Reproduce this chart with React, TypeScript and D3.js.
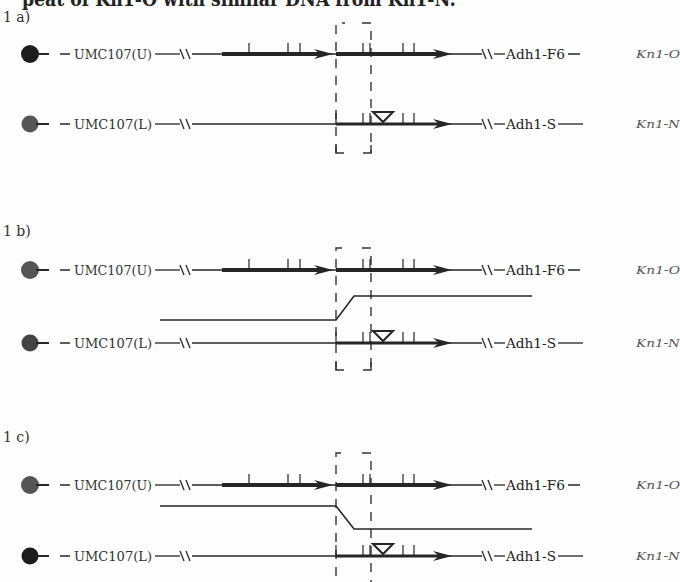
import React from 'react';
import * as d3 from 'd3';

// map positions along the chromosome (same units as the picture width)
const panelLabels = ['1 a)', '1 b)', '1 c)'];
const upperMarkers = ['UMC107(U)', 'UMC107(U)', 'UMC107(U)'];
const lowerMarkers = ['UMC107(L)', 'UMC107(L)', 'UMC107(L)'];
const upperAdh = ['Adh1-F6', 'Adh1-F6', 'Adh1-F6'];
const lowerAdh = ['Adh1-S', 'Adh1-S', 'Adh1-S'];
const upperAllele = ['Kn1-O', 'Kn1-O', 'Kn1-O'];
const lowerAllele = ['Kn1-N', 'Kn1-N', 'Kn1-N'];
const upperCircleFill = ['#1c1c1c', '#555', '#555'];
const lowerCircleFill = ['#555', '#444', '#1c1c1c'];

// crossover type per panel: none, from lower to upper, from upper to lower
const crossover = ['none', 'up', 'down'];

// vertical layout of each panel
const labelY = [22, 236, 442];
const upperY = [54, 270, 485];
const lowerY = [124, 343, 556];
const boxTop = [23, 248, 453];
const boxBottom = [153, 370, 610];

// gene features
const repeat1 = [222, 333];
const repeat2 = [336, 452];
const upperTicks = [249, 288, 300, 363, 370, 403, 414];
const lowerTicks = [336, 363, 370, 403, 414];
const boxEdges = [336, 371];
const insertion = 383;
const crossStart = 160;
const crossBendA = 336;
const crossBendB = 354;
const crossEnd = 532;

const x = d3.scaleLinear().domain([0, 680]).range([0, 680]);

const ink = '#262626';

function Arrow({ tip, y }: { tip: number; y: number }) {
  const t = x(tip);
  const p = d3.path();
  p.moveTo(t, y);
  p.lineTo(t - 19, y - 5);
  p.lineTo(t - 13, y);
  p.lineTo(t - 19, y + 5);
  p.closePath();
  return <path d={p.toString()} fill={ink} />;
}

function Break({ at, y }: { at: number; y: number }) {
  return (
    <g stroke={ink} strokeWidth={1.3}>
      <line x1={x(at) - 2} y1={y - 5} x2={x(at) + 2} y2={y + 5} />
      <line x1={x(at) + 4} y1={y - 5} x2={x(at) + 8} y2={y + 5} />
    </g>
  );
}

function Chromosome({ y, fill, marker, adh, allele, upper, r }: any) {
  const ticks = upper ? upperTicks : lowerTicks;
  return (
    <g>
      <circle cx={x(30)} cy={y} r={r} fill={fill} />
      <line x1={x(36)} x2={x(49)} y1={y} y2={y} stroke={ink} strokeWidth={2} />
      <line x1={x(60)} x2={x(70)} y1={y} y2={y} stroke={ink} strokeWidth={1.5} />
      <text x={x(74)} y={y + 4.5} fontSize={12.5} fill="#333" fontFamily="'DejaVu Serif', serif" textLength={78} lengthAdjust="spacingAndGlyphs">
        {marker}
      </text>
      <line x1={x(155)} x2={x(180)} y1={y} y2={y} stroke={ink} strokeWidth={1.3} />
      <Break at={182} y={y} />
      <line x1={x(192)} x2={x(482)} y1={y} y2={y} stroke={ink} strokeWidth={1.3} />
      {upper && (
        <g>
          <line x1={x(repeat1[0])} x2={x(repeat1[1]) - 13} y1={y} y2={y} stroke={ink} strokeWidth={4} />
          <Arrow tip={repeat1[1]} y={y} />
        </g>
      )}
      <line x1={x(repeat2[0])} x2={x(repeat2[1]) - 13} y1={y} y2={y} stroke={ink} strokeWidth={upper ? 4 : 3} />
      <Arrow tip={repeat2[1]} y={y} />
      {ticks.map((t, i) => (
        <line key={i} x1={x(t)} x2={x(t)} y1={y - 11} y2={y + 1} stroke={ink} strokeWidth={1.2} />
      ))}
      {!upper && (
        <path
          d={`M${x(insertion) - 10},${y - 12}L${x(insertion) + 10},${y - 12}L${x(insertion)},${y - 2}Z`}
          fill="none"
          stroke={ink}
          strokeWidth={2}
        />
      )}
      <Break at={484} y={y} />
      <line x1={x(494)} x2={x(505)} y1={y} y2={y} stroke={ink} strokeWidth={1.3} />
      <text x={x(506)} y={y + 4.5} fontSize={13} fill="#222" fontFamily="'DejaVu Serif', serif" textLength={upper ? 59 : 50} lengthAdjust="spacingAndGlyphs">
        {adh}
      </text>
      {upper ? (
        <line x1={x(568)} x2={x(580)} y1={y} y2={y} stroke={ink} strokeWidth={1.5} />
      ) : (
        <line x1={x(558)} x2={x(583)} y1={y} y2={y} stroke={ink} strokeWidth={1.3} />
      )}
      <text x={x(636)} y={y + 4} fontSize={11.5} fontStyle="italic" fill="#555" fontFamily="'DejaVu Serif', serif" textLength={44} lengthAdjust="spacingAndGlyphs">
        {allele}
      </text>
    </g>
  );
}

export default function App() {
  return (
    <svg width={680} height={582} style={{ position: 'absolute', left: 0, top: 0, background: '#fdfdfd' }}>
      <text x={22} y={6} fontSize={21} fontWeight="bold" fill="#222" fontFamily="'DejaVu Serif', serif" textLength={434} lengthAdjust="spacingAndGlyphs">
        peat of Kn1-O with similar DNA from Kn1-N:
      </text>
      {panelLabels.map((lab, i) => {
        const midY = (upperY[i] + lowerY[i]) / 2;
        const hiY = crossover[i] === 'up' ? upperY[i] + 26 : upperY[i] + 21;
        const loY = crossover[i] === 'up' ? lowerY[i] - 23 : lowerY[i] - 27;
        let cross = null;
        if (crossover[i] !== 'none') {
          const startY = crossover[i] === 'up' ? loY : hiY;
          const endY = crossover[i] === 'up' ? hiY : loY;
          const line = d3.line()([
            [x(crossStart), startY],
            [x(crossBendA), startY],
            [x(crossBendB), endY],
            [x(crossEnd), endY],
          ]);
          cross = <path d={line || ''} fill="none" stroke={ink} strokeWidth={1.6} />;
        }
        return (
          <g key={i}>
            <text x={3} y={labelY[i]} fontSize={14} fill="#333" fontFamily="'DejaVu Serif', serif">
              {lab}
            </text>
            {/* dashed box around the repeat region */}
            <path
              d={`M${x(boxEdges[0])},${boxBottom[i]}V${boxTop[i]}H${x(boxEdges[0]) + 9}M${x(boxEdges[1]) - 9},${boxTop[i]}H${x(boxEdges[1])}V${boxBottom[i]}`}
              fill="none"
              stroke="#333"
              strokeWidth={1.4}
              strokeDasharray="9 8"
            />
            <path
              d={`M${x(boxEdges[0])},${boxBottom[i] - 8}V${boxBottom[i]}H${x(boxEdges[0]) + 8}M${x(boxEdges[1]) - 8},${boxBottom[i]}H${x(boxEdges[1])}V${boxBottom[i] - 8}`}
              fill="none"
              stroke="#333"
              strokeWidth={1.4}
            />
            <Chromosome y={upperY[i]} fill={upperCircleFill[i]} marker={upperMarkers[i]} adh={upperAdh[i]} allele={upperAllele[i]} upper r={9} />
            <Chromosome y={lowerY[i]} fill={lowerCircleFill[i]} marker={lowerMarkers[i]} adh={lowerAdh[i]} allele={lowerAllele[i]} upper={false} r={8.5} />
            {cross}
            <g data-mid={midY} />
          </g>
        );
      })}
    </svg>
  );
}
